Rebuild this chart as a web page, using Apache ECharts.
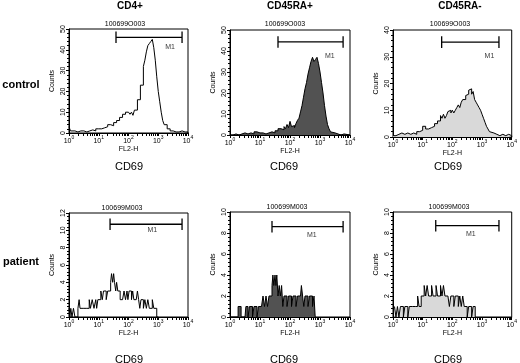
<!DOCTYPE html>
<html>
<head>
<meta charset="utf-8">
<script src="https://cdn.jsdelivr.net/npm/echarts@6/dist/echarts.min.js"></script>
<style>
  html, body { margin: 0; padding: 0; background: #fff; }
  #chart { width: 520px; height: 363px; }
</style>
</head>
<body>
<div id="chart"></div>
<script>
// x = position on the log FL2-H axis, in decades (0 -> 10^0, 4 -> 10^4); y = counts
const cd4CtrlX = [0, 0.05, 0.1, 0.2, 0.3, 0.4, 0.5, 0.6, 0.7, 0.8, 0.9, 1.0, 1.1, 1.2, 1.3, 1.4, 1.5, 1.6, 1.7, 1.8, 1.9, 2.0, 2.05, 2.1, 2.15, 2.2, 2.3, 2.4, 2.5, 2.55, 2.6, 2.65, 2.7, 2.75, 2.8, 2.85, 2.9, 2.95, 3.0, 3.05, 3.1, 3.15, 3.2, 3.3, 3.4, 3.5, 3.6, 3.7, 3.8, 3.9, 4.0];
const cd4CtrlY = [3, 1, 1, 0.5, 1, 1, 0.5, 1, 1.5, 1, 2, 2, 2.5, 3, 4, 3.5, 5, 6, 7.5, 9, 10, 10.5, 9, 10, 8.5, 11, 16, 23, 32, 35, 39, 42, 43, 44, 45, 41, 35, 27, 20, 15, 10, 6, 4, 2, 1, 0.5, 0.5, 1, 0.5, 0.5, 0];

const raPosCtrlX = [0, 0.1, 0.2, 0.3, 0.4, 0.5, 0.6, 0.7, 0.8, 0.9, 1.0, 1.1, 1.2, 1.3, 1.4, 1.5, 1.6, 1.7, 1.8, 1.85, 1.9, 1.95, 2.0, 2.05, 2.1, 2.15, 2.2, 2.25, 2.3, 2.35, 2.4, 2.45, 2.5, 2.55, 2.6, 2.65, 2.7, 2.75, 2.8, 2.85, 2.9, 2.95, 3.0, 3.05, 3.1, 3.15, 3.2, 3.25, 3.3, 3.35, 3.4, 3.5, 3.6, 3.7, 3.8, 4.0];
const raPosCtrlY = [0, 0.5, 0, 0.5, 1, 0.5, 1, 0.5, 1.5, 1, 1, 0.5, 1, 1.5, 1, 2, 3, 2.5, 4, 3, 5, 3.5, 6.5, 4, 4.5, 3.5, 5.5, 7, 8, 11, 14, 18, 22, 25, 29, 32, 35, 37, 35, 36, 37, 34, 30, 25, 20, 14, 9, 5, 3, 1.5, 1, 0.5, 0, 0.5, 0, 0];

const raNegCtrlX = [0, 0.1, 0.2, 0.3, 0.4, 0.5, 0.6, 0.7, 0.8, 0.9, 1.0, 1.1, 1.2, 1.3, 1.4, 1.5, 1.6, 1.65, 1.7, 1.75, 1.8, 1.85, 1.9, 1.95, 2.0, 2.05, 2.1, 2.15, 2.2, 2.25, 2.3, 2.35, 2.4, 2.45, 2.5, 2.55, 2.6, 2.65, 2.7, 2.75, 2.8, 2.85, 2.9, 2.95, 3.0, 3.05, 3.1, 3.15, 3.2, 3.25, 3.3, 3.4, 3.5, 3.6, 3.7, 3.8, 3.9, 4.0];
const raNegCtrlY = [0.5, 1, 1.5, 1, 1.5, 1, 1.5, 1, 2, 2.5, 4, 3, 3.5, 4, 5, 6, 8, 7, 8.5, 7, 8, 9.5, 10, 9, 10, 9, 10, 11, 12, 11, 13, 14, 14, 15.5, 16, 17.5, 18, 16, 17, 14, 13, 12, 11, 10, 8.5, 7, 5.5, 4, 3, 2, 1.5, 1, 0.5, 1, 0.5, 1, 0.5, 0];

const cd4PatX = [0, 0.03, 0.06, 0.1, 0.15, 0.2, 0.25, 0.3, 0.34, 0.37, 0.42, 0.5, 0.6, 0.68, 0.72, 0.78, 0.84, 0.9, 0.93, 0.97, 1.02, 1.07, 1.12, 1.16, 1.2, 1.25, 1.3, 1.35, 1.4, 1.43, 1.47, 1.5, 1.53, 1.57, 1.6, 1.64, 1.68, 1.72, 1.76, 1.8, 1.85, 1.9, 1.95, 1.98, 2.02, 2.06, 2.1, 2.14, 2.18, 2.22, 2.26, 2.3, 2.34, 2.38, 2.42, 2.46, 2.5, 2.55, 2.6, 2.65, 2.7, 2.75, 2.8, 2.85, 2.9, 2.95, 3.0];
const cd4PatY = [1, 0, 1, 0, 1, 0, 0, 1, 2, 1, 1, 1, 1, 2, 1, 2, 1, 2, 1, 2, 2, 3, 2, 3, 3, 2, 3, 3, 4, 5, 4, 5, 4, 3, 4, 3, 3, 2, 2, 2, 3, 2, 3, 2, 3, 3, 2, 3, 2, 2, 2, 3, 2, 1, 2, 2, 1, 2, 1, 2, 1, 1, 2, 1, 1, 0, 0];

const raPosPatX = [0, 0.27, 0.37, 0.5, 0.53, 0.6, 0.65, 0.7, 0.75, 0.8, 0.85, 0.9, 0.95, 1.0, 1.05, 1.1, 1.15, 1.2, 1.25, 1.3, 1.35, 1.4, 1.43, 1.46, 1.5, 1.53, 1.56, 1.6, 1.64, 1.68, 1.72, 1.76, 1.8, 1.85, 1.9, 1.95, 2.0, 2.05, 2.1, 2.15, 2.2, 2.25, 2.3, 2.35, 2.38, 2.42, 2.46, 2.5, 2.55, 2.6, 2.65, 2.7, 2.75, 2.8, 2.84];
const raPosPatY = [0, 1, 0, 0, 1, 0, 1, 1, 0, 1, 1, 0, 1, 1, 1, 2, 1, 2, 1, 2, 2, 3, 4, 3, 4, 3, 4, 2, 3, 2, 3, 1, 2, 2, 1, 2, 2, 1, 2, 2, 1, 2, 2, 2, 3, 2, 1, 2, 2, 1, 2, 2, 1, 2, 0];

const raNegPatX = [0.05, 0.1, 0.15, 0.2, 0.25, 0.3, 0.35, 0.4, 0.45, 0.5, 0.55, 0.65, 0.75, 0.83, 0.88, 0.95, 1.0, 1.05, 1.1, 1.15, 1.2, 1.25, 1.3, 1.35, 1.4, 1.45, 1.5, 1.55, 1.6, 1.65, 1.7, 1.75, 1.8, 1.85, 1.9, 1.95, 2.0, 2.05, 2.1, 2.15, 2.2, 2.25, 2.3, 2.35, 2.4, 2.45, 2.5, 2.55, 2.6, 2.65, 2.7, 2.77];
const raNegPatY = [1, 0, 1, 0, 1, 1, 0, 1, 1, 0, 1, 1, 1, 2, 1, 2, 2, 3, 2, 3, 2, 2, 3, 2, 2, 3, 2, 2, 3, 2, 3, 2, 2, 2, 1, 2, 2, 1, 2, 2, 1, 2, 1, 2, 1, 1, 0, 1, 1, 0, 1, 0];

// M1 marker: [from, to, height] in axis units, and where its label sits
const m1Gates = [[1.58, 3.8, 46], [1.6, 3.77, 44.3], [1.64, 3.57, 35.5], [1.38, 3.8, 10.7], [1.4, 3.77, 8.6], [1.44, 3.57, 8.7]];
const m1Labels = [[3.4, 41.3], [3.33, 37.6], [3.25, 30.3], [2.8, 10.0], [2.73, 7.8], [2.62, 7.9]];

const yMaxes = [50, 50, 40, 12, 10, 10];
const yIntervals = [10, 10, 10, 2, 2, 2];
const decadeExponents = [0, 1, 2, 3, 4];
const columnTitles = ['CD4+', 'CD45RA+', 'CD45RA-'];
const rowTitles = ['control', 'patient'];
const sampleIds = ['100699O003', '100699M003'];

const FONT = '"Liberation Sans", Arial, sans-serif';

const grids = [
  { left: 69, top: 29, width: 119, height: 104 },
  { left: 230, top: 30, width: 120, height: 105 },
  { left: 393, top: 30, width: 122, height: 107 },
  { left: 69, top: 213, width: 119, height: 104 },
  { left: 230, top: 212, width: 120, height: 105 },
  { left: 393, top: 212, width: 122, height: 105 }
];
const fills = [null, '#525252', '#d9d9d9', null, '#525252', '#d9d9d9'];
const histX = [cd4CtrlX, raPosCtrlX, raNegCtrlX, cd4PatX, raPosPatX, raNegPatX];
const histY = [cd4CtrlY, raPosCtrlY, raNegCtrlY, cd4PatY, raPosPatY, raNegPatY];

// log-style tick marks: each decade plus 2..9 inside it
const xTickValues = [];
decadeExponents.forEach(function (d) {
  xTickValues.push(d);
  if (d < 4) {
    for (let k = 2; k <= 9; k++) xTickValues.push(d + Math.log10(k));
  }
});

const chart = echarts.init(document.getElementById('chart'));

const option = {
  animation: false,
  grid: grids.map(function (g) {
    return Object.assign({ show: true, borderColor: '#000', borderWidth: 1, backgroundColor: 'transparent' }, g);
  }),
  xAxis: grids.map(function (g, i) {
    return {
      type: 'value', gridIndex: i, min: 0, max: 4, interval: 1,
      name: 'FL2-H', nameLocation: 'middle', nameGap: 12,
      nameTextStyle: { fontSize: 7, fontFamily: FONT, color: '#000' },
      axisLine: { lineStyle: { color: '#000', width: 1 } },
      axisTick: { show: true, length: 3, customValues: xTickValues, lineStyle: { color: '#000' } },
      splitLine: { show: false },
      axisLabel: {
        margin: 2, color: '#000', fontFamily: FONT,
        formatter: function (v) { return '{b|10}{s|' + v + '}'; },
        rich: {
          b: { fontSize: 7, fontFamily: FONT, color: '#000', lineHeight: 10, verticalAlign: 'bottom' },
          s: { fontSize: 5, fontFamily: FONT, color: '#000', lineHeight: 10, verticalAlign: 'top' }
        }
      }
    };
  }),
  yAxis: grids.map(function (g, i) {
    return {
      type: 'value', gridIndex: i, min: 0, max: yMaxes[i], interval: yIntervals[i],
      name: 'Counts', nameLocation: 'middle', nameGap: 13, nameRotate: 90,
      nameTextStyle: { fontSize: 7, fontFamily: FONT, color: '#000' },
      axisLine: { show: true, lineStyle: { color: '#000', width: 1 } },
      axisTick: { show: true, length: 3, lineStyle: { color: '#000' } },
      minorTick: { show: true, splitNumber: 5, length: 2, lineStyle: { color: '#000' } },
      splitLine: { show: false },
      axisLabel: { rotate: 90, fontSize: 7, fontFamily: FONT, color: '#000', margin: 2 }
    };
  }),
  series: []
};

histX.forEach(function (xs, i) {
  const s = {
    type: 'line', xAxisIndex: i, yAxisIndex: i, step: 'end', symbol: 'none', silent: true,
    data: xs.map(function (x, j) { return [x, histY[i][j]]; }),
    lineStyle: { color: '#000', width: 1 }
  };
  if (fills[i]) s.areaStyle = { color: fills[i], opacity: 1 };
  option.series.push(s);

  const gate = m1Gates[i];
  const cap = yMaxes[i] * 0.055;
  option.series.push({
    type: 'line', xAxisIndex: i, yAxisIndex: i, symbol: 'none', silent: true,
    lineStyle: { color: '#000', width: 1.3 },
    data: [[gate[0], gate[2] + cap], [gate[0], gate[2] - cap], [gate[0], gate[2]],
           [gate[1], gate[2]], [gate[1], gate[2] + cap], [gate[1], gate[2] - cap]]
  });
  option.series.push({
    type: 'scatter', xAxisIndex: i, yAxisIndex: i, symbolSize: 0, silent: true,
    data: [m1Labels[i]],
    label: { show: true, position: 'inside', formatter: 'M1', fontSize: 7, fontFamily: FONT, color: '#000' }
  });
});

// titles and other text around the panels
const textItems = [];
const colCenters = [130, 290, 460];
columnTitles.forEach(function (t, i) {
  textItems.push({ text: t, x: colCenters[i], y: 6, font: 'bold 10px ' + FONT });
});
textItems.push({ text: rowTitles[0], x: 21, y: 85, font: 'bold 11px ' + FONT });
textItems.push({ text: rowTitles[1], x: 21, y: 262, font: 'bold 11px ' + FONT });
[[125, 24], [285, 24], [450, 24]].forEach(function (p) {
  textItems.push({ text: sampleIds[0], x: p[0], y: p[1], font: '7px ' + FONT });
});
[[122, 208], [287, 207], [449, 207]].forEach(function (p) {
  textItems.push({ text: sampleIds[1], x: p[0], y: p[1], font: '7px ' + FONT });
});
[[129, 167], [284, 167], [448, 167], [129, 360], [284, 360], [448, 360]].forEach(function (p) {
  textItems.push({ text: 'CD69', x: p[0], y: p[1], font: '11px ' + FONT });
});

option.graphic = textItems.map(function (t) {
  return {
    type: 'text', x: t.x, y: t.y, silent: true,
    style: { text: t.text, font: t.font, fill: '#000', textAlign: 'center', textVerticalAlign: 'middle' }
  };
});

chart.setOption(option);
</script>
</body>
</html>
